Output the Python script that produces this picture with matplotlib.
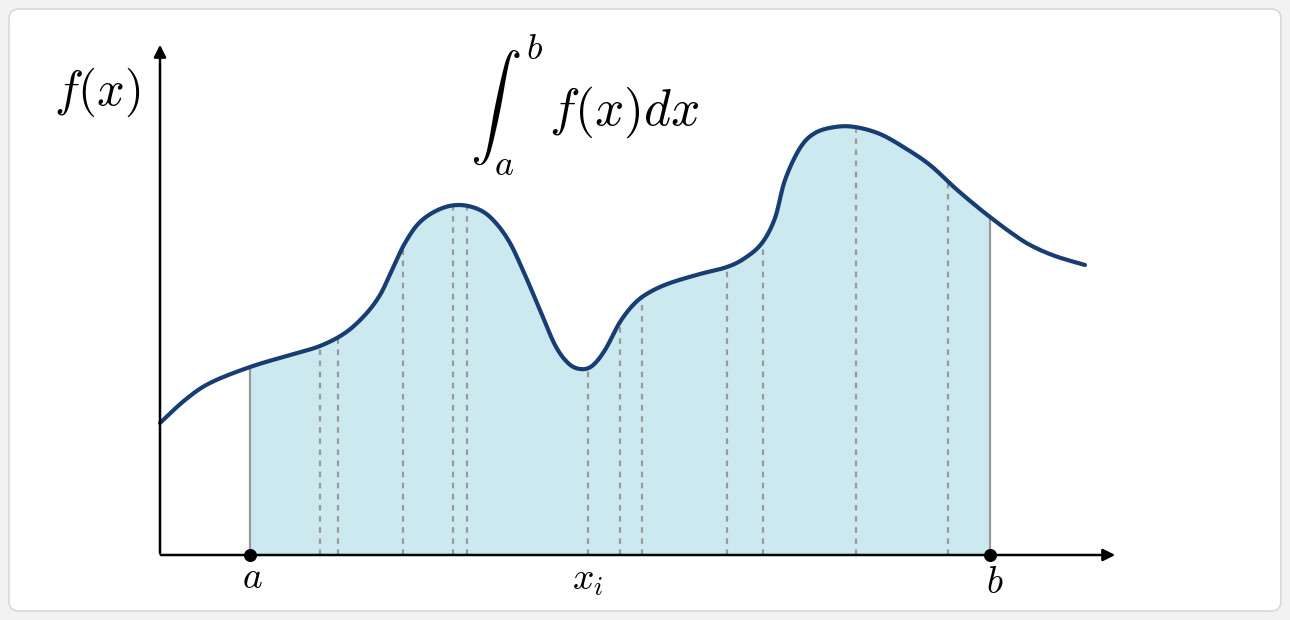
import numpy as np
import matplotlib.pyplot as plt
from matplotlib.patches import FancyBboxPatch

plt.rcParams["mathtext.fontset"] = "cm"

# curve (pixel-like coordinates, y downwards)
curve_x = [160, 185, 210, 250, 290, 320, 345, 365, 380, 392, 405, 420, 440, 460,
           480, 495, 510, 525, 540, 555, 568, 580, 592, 605, 620, 635, 650, 670,
           700, 727, 745, 762, 775, 785, 800, 815, 835, 855, 880, 905, 930, 955,
           975, 990, 1010, 1030, 1055, 1085]
curve_y = [423, 400, 383, 367, 355, 346, 333, 315, 295, 270, 243, 222, 209, 205,
           210, 222, 243, 275, 310, 345, 363, 369, 366, 350, 322, 303, 292, 283,
           274, 267, 258, 243, 218, 180, 148, 133, 127, 127, 134, 148, 165, 188,
           205, 217, 232, 245, 256, 265]
samples = [320, 338, 403, 453, 467, 588, 620, 642, 727, 763, 856, 948]
a_x, b_x = 250, 990
base = 555


def catmull_rom(px, py, n=20):
    """Smooth line through the read points for drawing."""
    p = np.column_stack([px, py]).astype(float)
    p = np.vstack([p[0], p, p[-1]])
    t = np.linspace(0, 1, n, endpoint=False)[:, None]
    out = []
    for i in range(1, len(p) - 2):
        p0, p1, p2, p3 = p[i - 1], p[i], p[i + 1], p[i + 2]
        out.append(0.5 * ((2 * p1) + (-p0 + p2) * t
                          + (2 * p0 - 5 * p1 + 4 * p2 - p3) * t ** 2
                          + (-p0 + 3 * p1 - 3 * p2 + p3) * t ** 3))
    out.append(p[-2][None, :])
    out = np.vstack(out)
    return out[:, 0], out[:, 1]


sx, sy = catmull_rom(curve_x, curve_y)

fig = plt.figure(figsize=(12.9, 6.2), dpi=100)
fig.patch.set_facecolor("#f2f2f2")
ax = fig.add_axes([0, 0, 1, 1])
ax.set_xlim(0, 1290)
ax.set_ylim(620, 0)
ax.axis("off")

ax.add_patch(FancyBboxPatch((9, 9), 1272, 602, boxstyle="round,pad=0,rounding_size=10",
                            facecolor="white", edgecolor="#d8d8d8", linewidth=1.2))

xx = np.linspace(a_x, b_x, 800)
yy = np.interp(xx, sx, sy)
ax.fill_between(xx, yy, base, color="#cde9f0", linewidth=0, zorder=1)

for s in samples:
    ax.plot([s, s], [base, np.interp(s, sx, sy)], ls=(0, (2.5, 2.5)),
            color="#999999", lw=1.6, zorder=2)
for s in (a_x, b_x):
    ax.plot([s, s], [base, np.interp(s, sx, sy)], color="#999999", lw=1.6, zorder=2)

ax.plot(sx, sy, color="#173d73", lw=3.0, solid_capstyle="round", zorder=3)

# axes with arrows
ax.annotate("", xy=(1118, base), xytext=(158, base),
            arrowprops=dict(arrowstyle="-|>", color="black", lw=1.8, mutation_scale=18), zorder=4)
ax.annotate("", xy=(160, 42), xytext=(160, base + 1),
            arrowprops=dict(arrowstyle="-|>", color="black", lw=1.8, mutation_scale=18), zorder=4)
ax.scatter([a_x, b_x], [base, base], s=70, color="black", zorder=5)

ax.text(97, 92, r"$f(x)$", fontsize=35, ha="center", va="center")
ax.text(585, 105, r"$\int_a^b\, f(x)dx$", fontsize=37, ha="center", va="center")
ax.text(252, 578, r"$a$", fontsize=27, ha="center", va="center")
ax.text(588, 580, r"$x_i$", fontsize=27, ha="center", va="center")
ax.text(995, 583, r"$b$", fontsize=27, ha="center", va="center")

fig.savefig("out.png", dpi=100, facecolor=fig.get_facecolor())
